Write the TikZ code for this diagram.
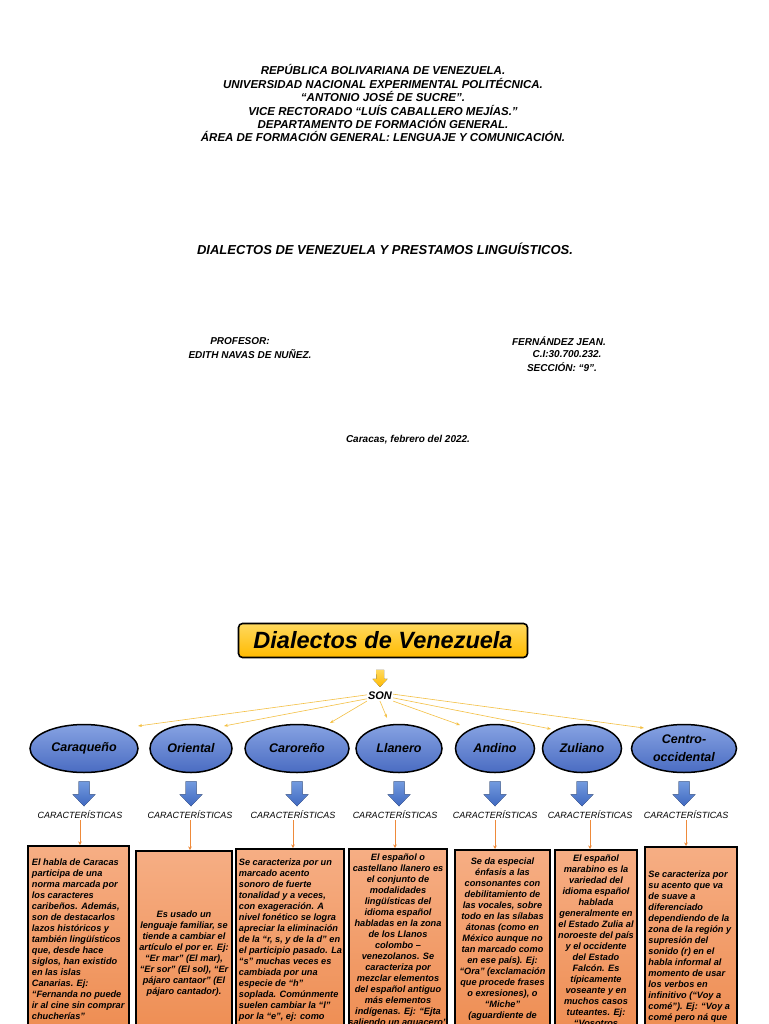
\documentclass[tikz,border=0pt]{standalone}
\usepackage{fontspec}
\setmainfont{Liberation Sans}
\usetikzlibrary{positioning,arrows.meta,shapes.geometric,calc}

\definecolor{titA}{HTML}{FFD95E}
\definecolor{titB}{HTML}{FFBA00}
\definecolor{ellA}{HTML}{86A2E2}
\definecolor{ellB}{HTML}{4A6CC2}
\definecolor{arrA}{HTML}{739ADF}
\definecolor{arrB}{HTML}{3F69C0}
\definecolor{boxA}{HTML}{F6AE84}
\definecolor{boxB}{HTML}{EC8546}
\definecolor{sonY}{HTML}{F4C043}
\definecolor{arrO}{HTML}{EE8A3A}

\tikzset{
  hdr/.style={font=\bfseries\itshape\fontsize{11.5}{13.4}\selectfont, align=center, inner sep=0pt},
  datos/.style={font=\bfseries\itshape\fontsize{10}{13}\selectfont, inner sep=0pt},
  titlebox/.style={draw=black, line width=1.6pt, rounded corners=4pt, top color=titA, bottom color=titB,
    minimum width=289pt, minimum height=34pt, inner sep=0pt, font=\bfseries\itshape\fontsize{23.5}{26}\selectfont},
  sonlab/.style={font=\bfseries\itshape\fontsize{11}{12}\selectfont, inner sep=1pt},
  dial/.style={ellipse, draw=black, line width=1.5pt, top color=ellA, bottom color=ellB, minimum height=48pt,
    inner sep=0pt, align=center, font=\bfseries\itshape\fontsize{12.5}{18}\selectfont},
  charlab/.style={font=\itshape\fontsize{9}{10}\selectfont, inner sep=1pt},
  infobox/.style={draw=black, line width=1.6pt, top color=boxA, bottom color=boxB, anchor=north, minimum height=230pt},
  infotext/.style={font=\bfseries\itshape\fontsize{9.2}{11}\selectfont, inner sep=0pt, text=black},
  sonline/.style={draw=sonY, line width=0.6pt, -{Stealth[length=4pt,width=3pt]}},
  charline/.style={draw=arrO, line width=0.9pt, -{Stealth[length=3.5pt,width=3.5pt]}},
  bluearr/.style={top color=arrA, bottom color=arrB},
  yelarr/.style={top color=titA, bottom color=titB},
}

\begin{document}
\begin{tikzpicture}[x=1pt,y=-1pt]
\useasboundingbox (0,0) rectangle (768,1024);
\fill[white] (0,0) rectangle (768,1024);
\clip (0,0) rectangle (768,1024);

% portada
\node[hdr, anchor=north] (inst) at (383,64.5) {REPÚBLICA BOLIVARIANA DE VENEZUELA.\\
  UNIVERSIDAD NACIONAL EXPERIMENTAL POLITÉCNICA.\\
  “ANTONIO JOSÉ DE SUCRE”.\\
  VICE RECTORADO “LUÍS CABALLERO MEJÍAS.”\\
  DEPARTAMENTO DE FORMACIÓN GENERAL.\\
  ÁREA DE FORMACIÓN GENERAL: LENGUAJE Y COMUNICACIÓN.};
\node[hdr, font=\bfseries\itshape\fontsize{13}{15}\selectfont] (tema) at (385,249) {DIALECTOS DE VENEZUELA Y PRESTAMOS LINGUÍSTICOS.};
\node[datos] (prof) at (240,341.5) {PROFESOR:};
\node[datos] (profn) at (250,354.5) {EDITH NAVAS DE NUÑEZ.};
\node[datos] (alum) at (559,341.5) {FERNÁNDEZ JEAN.};
\node[datos] (ci) at (567,354.5) {C.I:30.700.232.};
\node[datos] (secc) at (562,367.5) {SECCIÓN: “9”.};
\node[datos] (fecha) at (408,440) {Caracas, febrero del 2022.};

% mapa
\node[titlebox] (titulo) at (383,640.5) {Dialectos de Venezuela};
\node[sonlab] (son) at (380,696) {SON};
\fill[yelarr] ($(son.north)+(-4,-21)$) -- ++(8,0) -- ++(0,9) -- ++(3.5,0)
  -- ($(son.north)+(0,-4)$) -- ++(-7.5,-8) -- ++(4,0) -- cycle;

\foreach \n/\cx/\w/\txt in {1/84/108/Caraqueño, 2/191/82/Oriental, 3/297/104/Caroreño,
  4/399/86/Llanero, 5/495/79/Andino, 6/582/79/Zuliano, 7/684/105/{Centro-\\occidental}}
  \node[dial, minimum width=\w pt] (e\n) at (\cx,748.5) {\txt};

\coordinate (t1) at (138,726);
\coordinate (t2) at (224,726);
\coordinate (t3) at (330,723);
\coordinate (t4) at (387,718);
\coordinate (t5) at (460,725);
\coordinate (t6) at (551,729);
\coordinate (t7) at (644,728);
\draw[sonline] (son.175) -- (t1);
\draw[sonline] (son.192) -- (t2);
\draw[sonline] (son.south west) -- (t3);
\draw[sonline] (son.south) -- (t4);
\draw[sonline] (son.south east) -- (t5);
\draw[sonline] (son.352) -- (t6);
\draw[sonline] (son.8) -- (t7);

\foreach \n in {1,...,7}
  \fill[bluearr, shift={(e\n.south)}] (-5.5,8) -- (5.5,8) -- (5.5,21) -- (11.5,21)
    -- (0,33) -- (-11.5,21) -- (-5.5,21) -- cycle;

\foreach \n/\cx in {1/80, 2/190, 3/293, 4/395, 5/495, 6/590, 7/686}
  \node[charlab] (k\n) at (\cx,815) {CARACTERÍSTICAS};

\foreach \n/\cx/\w/\top in {1/78.5/101/845, 2/184/96/850, 3/290/108/848, 4/398/98/848,
  5/502.5/95/849, 6/596/82/849, 7/691/92/846}
  \node[infobox, minimum width=\w pt] (b\n) at (\cx,\top) {};

\foreach \n in {1,...,7}
  \draw[charline] (k\n.south) -- (k\n.south |- b\n.north);

\node[infotext, align=left, below right=14pt and 4.5pt of b1.north west] (c1) {El habla de Caracas\\
  participa de una\\ norma marcada por\\ los caracteres\\ caribeños. Además,\\ son de destacarlos\\
  lazos históricos y\\ también lingüísticos\\ que, desde hace\\ siglos, han existido\\ en las islas\\
  Canarias. Ej:\\ “Fernanda no puede\\ ir al cine sin comprar\\ chucherías”};
\node[infotext, align=center, below=61pt of b2.north] (c2) {Es usado un\\ lenguaje familiar, se\\
  tiende a cambiar el\\ artículo el por er. Ej:\\ “Er mar” (El mar),\\ “Er sor” (El sol), “Er\\
  pájaro cantaor” (El\\ pájaro cantador).};
\node[infotext, align=left, below right=11pt and 3.5pt of b3.north west] (c3) {Se caracteriza por un\\
  marcado acento\\ sonoro de fuerte\\ tonalidad y a veces,\\ con exageración. A\\ nivel fonético se logra\\
  apreciar la eliminación\\ de la “r, s, y de la d” en\\ el participio pasado. La\\ “s” muchas veces es\\
  cambiada por una\\ especie de “h”\\ soplada. Comúnmente\\ suelen cambiar la “l”\\ por la “e”, ej: como};
\node[infotext, align=center, below=6pt of b4.north] (c4) {El español o\\ castellano llanero es\\
  el conjunto de\\ modalidades\\ lingüísticas del\\ idioma español\\ habladas en la zona\\ de los Llanos\\
  colombo –\\ venezolanos. Se\\ caracteriza por\\ mezclar elementos\\ del español antiguo\\ más elementos\\
  indígenas. Ej: “Ejta\\ saliendo un aguacero”};
\node[infotext, align=center, below=9pt of b5.north] (c5) {Se da especial\\ énfasis a las\\
  consonantes con\\ debilitamiento de\\ las vocales, sobre\\ todo en las sílabas\\ átonas (como en\\
  México aunque no\\ tan marcado como\\ en ese país). Ej:\\ “Ora” (exclamación\\ que procede frases\\
  o exresiones), o\\ “Miche”\\ (aguardiente de};
\node[infotext, align=center, below=6pt of b6.north] (c6) {El español\\ marabino es la\\ variedad del\\
  idioma español\\ hablada\\ generalmente en\\ el Estado Zulia al\\ noroeste del país\\ y el occidente\\
  del Estado\\ Falcón. Es\\ típicamente\\ voseante y en\\ muchos casos\\ tuteantes. Ej:\\ “Vosotros};
\node[infotext, align=left, below right=25pt and 4pt of b7.north west] (c7) {Se caracteriza por\\
  su acento que va\\ de suave a\\ diferenciado\\ dependiendo de la\\ zona de la región y\\ supresión del\\
  sonido (r) en el\\ habla informal al\\ momento de usar\\ los verbos en\\ infinitivo (“Voy a\\
  comé”). Ej: “Voy a\\ comé pero ná que};
\end{tikzpicture}
\end{document}
